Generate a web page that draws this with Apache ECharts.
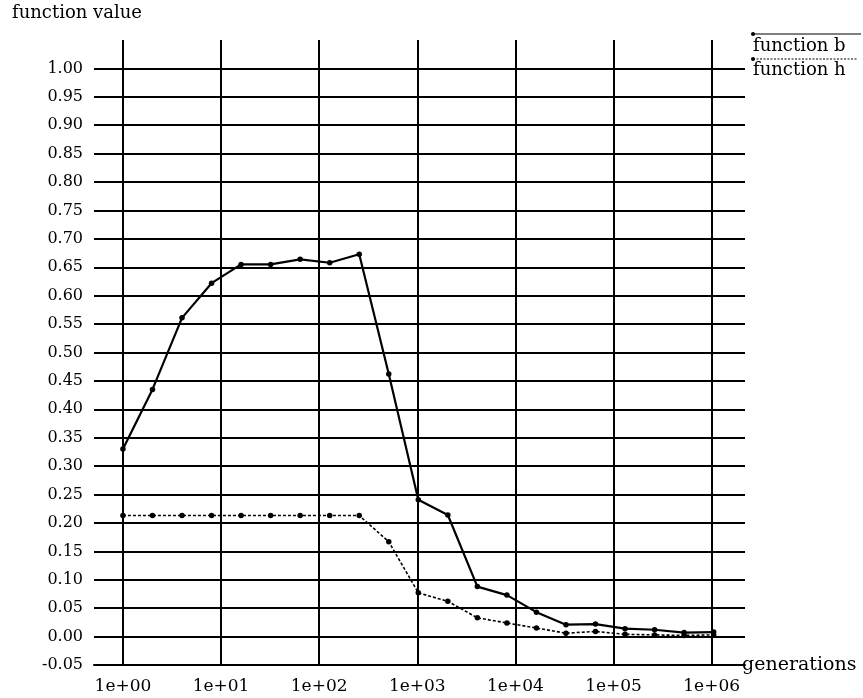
<!DOCTYPE html>
<html>
<head>
<meta charset="utf-8">
<script src="https://cdn.jsdelivr.net/npm/echarts@6/dist/echarts.min.js"></script>
<style>
  html, body { margin: 0; padding: 0; background: #fff; }
  #chart { width: 863px; height: 698px; }
</style>
</head>
<body>
<div id="chart"></div>
<script>
// Generations sampled at powers of two, 2^0 .. 2^20
var generations = [1, 2, 4, 8, 16, 32, 64, 128, 256, 512, 1024, 2048, 4096, 8192,
  16384, 32768, 65536, 131072, 262144, 524288, 1048576];

var functionB = [0.330, 0.435, 0.561, 0.622, 0.655, 0.655, 0.664, 0.658, 0.673, 0.462,
  0.241, 0.214, 0.088, 0.073, 0.043, 0.021, 0.022, 0.014, 0.012, 0.007, 0.008];

var functionH = [0.213, 0.213, 0.213, 0.213, 0.213, 0.213, 0.213, 0.213, 0.213, 0.167,
  0.077, 0.062, 0.033, 0.024, 0.015, 0.006, 0.009, 0.004, 0.003, 0.002, 0.003];

var seriesNames = ['function b', 'function h'];
var xAxisName = 'generations';
var yAxisName = 'function value';

var FONT = '"DejaVu Serif", "Liberation Serif", serif';

function pairs(xs, ys) {
  return xs.map(function (x, i) { return [x, ys[i]]; });
}

function expLabel(v) {
  var e = Math.round(Math.log10(v));
  return '1e+' + (e < 10 ? '0' : '') + e;
}

var chart = echarts.init(document.getElementById('chart'), null, { renderer: 'canvas' });

chart.setOption({
  animation: false,
  backgroundColor: '#ffffff',
  grid: { left: 94, right: 118, top: 40, bottom: 33, containLabel: false },
  xAxis: {
    type: 'log',
    logBase: 10,
    min: Math.pow(10, -0.295),
    max: Math.pow(10, 6.34),
    name: xAxisName,
    nameLocation: 'end',
    nameGap: -3,
    nameTextStyle: { fontFamily: FONT, fontSize: 19, color: '#000', verticalAlign: 'middle', padding: [0, 0, 4, 0] },
    axisLine: { show: true, onZero: false, lineStyle: { color: '#000', width: 2 } },
    axisTick: { show: false },
    axisLabel: {
      fontFamily: FONT, fontSize: 17, color: '#000', margin: 13,
      showMinLabel: false, showMaxLabel: false,
      formatter: expLabel
    },
    splitLine: {
      show: true, showMinLine: false, showMaxLine: false,
      lineStyle: { color: '#000', width: 2 }
    },
    minorTick: { show: false },
    minorSplitLine: { show: false }
  },
  yAxis: {
    type: 'value',
    min: -0.05,
    max: 1.05,
    interval: 0.05,
    name: yAxisName,
    nameLocation: 'end',
    nameGap: 18,
    nameTextStyle: { fontFamily: FONT, fontSize: 18, color: '#000', align: 'left', padding: [0, 0, 0, -82] },
    axisLine: { show: false },
    axisTick: { show: false },
    axisLabel: {
      fontFamily: FONT, fontSize: 16, color: '#000', margin: 11,
      showMaxLabel: false,
      formatter: function (v) { return v.toFixed(2); }
    },
    splitLine: {
      show: true, showMaxLine: false,
      lineStyle: { color: '#000', width: 2 }
    }
  },
  series: [
    {
      name: seriesNames[0],
      type: 'line',
      data: pairs(generations, functionB),
      symbol: 'circle',
      symbolSize: 5.5,
      itemStyle: { color: '#000' },
      lineStyle: { color: '#000', width: 2.2 },
      z: 3
    },
    {
      name: seriesNames[1],
      type: 'line',
      data: pairs(generations, functionH),
      symbol: 'circle',
      symbolSize: 5.5,
      itemStyle: { color: '#000' },
      lineStyle: { color: '#000', width: 1.6, type: [3, 2] },
      z: 3
    }
  ],
  graphic: [
    { type: 'line', shape: { x1: 753, y1: 34, x2: 861, y2: 34 }, style: { stroke: '#000', lineWidth: 1.2 } },
    { type: 'circle', shape: { cx: 753, cy: 34, r: 2 }, style: { fill: '#000' } },
    { type: 'text', left: 753, top: 37, style: { text: seriesNames[0], font: '18px ' + FONT, fill: '#000' } },
    { type: 'line', shape: { x1: 753, y1: 59, x2: 858, y2: 59 }, style: { stroke: '#000', lineWidth: 1.2, lineDash: [2, 1.5] } },
    { type: 'circle', shape: { cx: 753, cy: 59, r: 2 }, style: { fill: '#000' } },
    { type: 'text', left: 753, top: 61, style: { text: seriesNames[1], font: '18px ' + FONT, fill: '#000' } }
  ]
});
</script>
</body>
</html>
